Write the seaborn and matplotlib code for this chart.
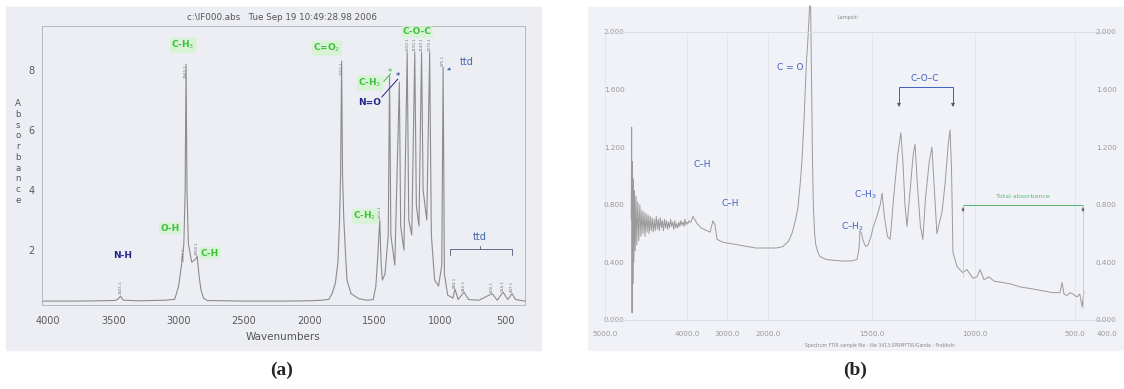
import numpy as np
import pandas as pd
import matplotlib
matplotlib.use('Agg')
import matplotlib.pyplot as plt
import seaborn as sns
from matplotlib.patches import Rectangle

# ---- data, panel (a): absorbance vs wavenumber ----
a_wn = [4046, 3800, 3600, 3500, 3480, 3460, 3445, 3430, 3420, 3300, 3100,
        3030, 3000, 2975, 2960, 2950, 2943, 2936, 2925, 2900, 2870, 2858,
        2845, 2830, 2810, 2780, 2500, 2200, 2000, 1900, 1850, 1825, 1800,
        1780, 1768, 1760, 1752, 1745, 1735, 1720, 1711, 1680, 1620, 1560,
        1510, 1490, 1475, 1460, 1450, 1440, 1420, 1395, 1385, 1375, 1345,
        1310, 1300, 1275, 1250, 1238, 1215, 1192, 1180, 1160, 1140, 1128,
        1100, 1078, 1065, 1040, 1010, 985, 975, 965, 940, 900, 884, 860,
        815, 780, 700, 600, 560, 516, 480, 447, 420, 348]
a_abs = [0.30, 0.30, 0.31, 0.32, 0.33, 0.38, 0.47, 0.36, 0.33, 0.31, 0.33,
         0.36, 0.80, 1.60, 2.20, 4.00, 8.20, 4.00, 2.20, 1.60, 1.70, 1.80,
         1.20, 0.70, 0.40, 0.32, 0.30, 0.30, 0.31, 0.33, 0.36, 0.55, 0.90,
         1.60, 3.00, 4.50, 8.30, 4.50, 3.00, 1.70, 1.00, 0.55, 0.38, 0.33,
         0.35, 0.80, 1.80, 3.00, 1.60, 1.00, 1.20, 2.50, 7.80, 2.50, 1.50,
         7.60, 2.80, 2.00, 8.60, 3.00, 2.50, 8.60, 3.50, 2.80, 8.60, 4.00,
         3.00, 8.60, 2.50, 1.00, 0.80, 1.50, 8.10, 1.20, 0.50, 0.40, 0.70,
         0.35, 0.60, 0.35, 0.33, 0.55, 0.33, 0.60, 0.35, 0.55, 0.35, 0.30]
a_xticks = [4000, 3500, 3000, 2500, 2000, 1500, 1000, 500]
a_yticks = [2, 4, 6, 8]
# tiny peak-position labels printed by the instrument software
a_peak_wn = [3445, 2962, 2943, 2858, 1752, 1458, 1250, 1192,
             1140, 1078, 975, 884, 815, 600, 516, 447]
a_peak_y = [0.55, 1.65, 7.75, 1.85, 7.85, 3.05, 8.65, 8.65,
            8.65, 8.65, 8.15, 0.75, 0.65, 0.60, 0.65, 0.60]

# ---- data, panel (b) ----
b_wn = [4680, 4675, 4670, 4665, 4660, 4655, 4648, 4640, 4632, 4622, 4612,
        4600, 4588, 4575, 4562, 4550, 4537, 4525, 4512, 4500, 4487, 4475,
        4462, 4450, 4437, 4425, 4412, 4400, 4387, 4375, 4362, 4350, 4337,
        4325, 4312, 4300, 4287, 4275, 4262, 4250, 4237, 4225, 4212, 4200,
        4187, 4175, 4162, 4150, 4137, 4125, 4112, 4100, 4087, 4075, 4062,
        4050, 4037, 4025, 4012, 4000, 3975, 3950, 3925, 3900, 3850, 3750,
        3650, 3500, 3425, 3350, 3300, 3250, 3100, 2900, 2700, 2500, 2300,
        2100, 1960, 1928, 1900, 1885, 1870, 1856, 1845, 1837, 1828, 1822,
        1815, 1808, 1800, 1795, 1790, 1786, 1782, 1776, 1770, 1760, 1750,
        1720, 1650, 1600, 1572, 1562, 1558, 1550, 1543, 1530, 1519, 1505,
        1495, 1476, 1460, 1451, 1440, 1425, 1412, 1395, 1375, 1360, 1350,
        1340, 1330, 1315, 1300, 1291, 1280, 1265, 1253, 1240, 1222, 1209,
        1197, 1185, 1172, 1160, 1145, 1130, 1121, 1114, 1107, 1087, 1060,
        1039, 1010, 990, 975, 955, 930, 905, 860, 820, 775, 730, 690, 650,
        610, 575, 565, 555, 540, 525, 510, 494, 485, 478, 472]
b_abs = [0.70, 1.34, 0.05, 1.10, 0.25, 0.98, 0.40, 0.90, 0.48, 0.86, 0.52,
         0.82, 0.55, 0.80, 0.58, 0.76, 0.60, 0.75, 0.58, 0.74, 0.61, 0.73,
         0.60, 0.72, 0.62, 0.71, 0.61, 0.70, 0.62, 0.72, 0.63, 0.70, 0.62,
         0.71, 0.64, 0.69, 0.62, 0.70, 0.64, 0.69, 0.63, 0.68, 0.64, 0.70,
         0.65, 0.68, 0.63, 0.69, 0.64, 0.67, 0.64, 0.68, 0.65, 0.69, 0.66,
         0.68, 0.65, 0.70, 0.66, 0.68, 0.67, 0.69, 0.68, 0.68, 0.72, 0.67,
         0.64, 0.62, 0.61, 0.69, 0.66, 0.56, 0.54, 0.53, 0.52, 0.51, 0.50,
         0.50, 0.50, 0.51, 0.55, 0.60, 0.68, 0.78, 0.95, 1.10, 1.35, 1.55,
         1.80, 1.95, 2.18, 2.18, 1.60, 1.10, 0.80, 0.60, 0.52, 0.47, 0.44,
         0.42, 0.41, 0.41, 0.42, 0.50, 0.62, 0.60, 0.55, 0.51, 0.52, 0.58,
         0.64, 0.72, 0.80, 0.88, 0.72, 0.58, 0.56, 0.85, 1.15, 1.30, 1.10,
         0.80, 0.65, 0.90, 1.15, 1.22, 0.95, 0.65, 0.56, 0.85, 1.10, 1.20,
         0.90, 0.60, 0.68, 0.75, 0.95, 1.22, 1.32, 1.05, 0.47, 0.37, 0.33,
         0.35, 0.29, 0.30, 0.35, 0.28, 0.30, 0.27, 0.26, 0.25, 0.23, 0.22,
         0.21, 0.20, 0.19, 0.19, 0.26, 0.18, 0.17, 0.19, 0.18, 0.16, 0.18,
         0.09, 0.20]
b_xticks = [5000, 4000, 3000, 2000, 1500, 1000, 500, 400]
b_yticks = [0.0, 0.4, 0.8, 1.2, 1.6, 2.0]
# where the tick labels of the non-linear instrument axis sit (pixels)
b_tick_px = [605, 687, 727, 768, 872, 975, 1075, 1107]

W, H = 1124, 389
sns.set_theme(style='white')
plt.rcParams['font.family'] = ['DejaVu Sans']

fig = plt.figure(figsize=(W / 100, H / 100), dpi=100)


def fbox(x0, y0, x1, y1):
    # pixel box -> figure fraction rect
    return [x0 / W, 1 - y1 / H, (x1 - x0) / W, (y1 - y0) / H]


# panel backgrounds
for (x0, y0, x1, y1), c in [((6, 7, 541, 350), '#eceef4'),
                            ((588, 7, 1124, 350), '#f1f2f7')]:
    r = fbox(x0, y0, x1, y1)
    fig.add_artist(Rectangle(r[:2], r[2], r[3], transform=fig.transFigure,
                             color=c, zorder=0))

# ================= panel (a) =================
axA = fig.add_axes(fbox(42, 26, 525, 305))
axA.set_facecolor('none')
dfA = pd.DataFrame({'wn': a_wn, 'abs': a_abs})
sns.lineplot(data=dfA, x='wn', y='abs', sort=False, estimator=None,
             color='#8c8c8c', lw=0.8, ax=axA)
axA.set_xlim(4046, 348)
axA.set_ylim(0.17, 9.47)
axA.set_xticks(a_xticks)
axA.set_yticks(a_yticks)
axA.set_xlabel('')
axA.set_ylabel('')
axA.tick_params(colors='#5a5a5a', labelsize=7, length=2, width=0.6, direction='out')
axA.tick_params(axis='x', pad=6)
for s in axA.spines.values():
    s.set_color('#b4b7c0')
    s.set_linewidth(0.7)

for wn, y in zip(a_peak_wn, a_peak_y):
    axA.text(wn, y, str(wn) + '.1', rotation=90, fontsize=2.8, color='#777777',
             ha='center', va='bottom')

green = '#3cc03c'
halo = dict(boxstyle='round,pad=0.15', fc='#d4f3cf', ec='none', alpha=0.85)
navy = '#23238c'
tblue = '#4466aa'
for txt, x, y in [(r'C-H$_3$', 2966, 8.83), (r'C=O$_2$', 1864, 8.73),
                  ('O-H', 3066, 2.73), ('C-H', 2760, 1.90),
                  (r'C-H$_2$', 1573, 3.13), (r'C-H$_3$', 1534, 7.57),
                  ('C-O-C', 1175, 9.27)]:
    axA.text(x, y, txt, color=green, fontsize=6.5, fontweight='bold',
             ha='center', va='center', bbox=halo)
axA.text(3426, 1.83, 'N-H', color=navy, fontsize=6.5, fontweight='bold',
         ha='center', va='center')
axA.text(1534, 6.93, 'N=O', color=navy, fontsize=6.5, fontweight='bold',
         ha='center', va='center')
axA.text(1381, 7.93, '*', color=green, fontsize=6, ha='center', va='center')
axA.text(1320, 7.77, '*', color=navy, fontsize=6, ha='center', va='center')
axA.plot([1430, 1378], [7.62, 7.88], color=green, lw=0.7)
axA.plot([1445, 1322], [7.10, 7.70], color=navy, lw=0.7)
axA.annotate('ttd', xy=(945, 8.0), xytext=(792, 8.27), color=tblue,
             fontsize=7, ha='center', va='center',
             arrowprops=dict(arrowstyle='-|>', color=tblue, lw=0.6,
                             mutation_scale=4, shrinkA=6, shrinkB=0))
axA.text(692, 2.45, 'ttd', color=tblue, fontsize=7, ha='center', va='center')
axA.plot([922, 922, 447, 447], [1.85, 2.02, 2.02, 1.85], color='#555577', lw=0.6)
axA.plot([692, 692], [2.02, 2.15], color='#555577', lw=0.6)

fig.text(282 / W, 1 - 18 / H, 'c:\\IF000.abs   Tue Sep 19 10:49:28.98 2006',
         fontsize=6.3, color='#555555', ha='center', va='center')
fig.text(283 / W, 1 - 337 / H, 'Wavenumbers', fontsize=7.5, color='#555555',
         ha='center', va='center')
fig.text(18 / W, 1 - 152 / H, '\n'.join('Absorbance'), fontsize=6.2,
         color='#555555', ha='center', va='center', linespacing=1.25)

# ================= panel (b) =================
axB = fig.add_axes(fbox(605, 32, 1107, 320))
axB.set_facecolor('none')
dfB = pd.DataFrame({'wn': b_wn, 'abs': b_abs})
sns.lineplot(data=dfB, x='wn', y='abs', sort=False, estimator=None,
             color='#9a9a9a', lw=0.7, ax=axB)
for l in axB.lines:
    l.set_clip_on(False)

# piecewise-linear instrument axis (increasing transform, axis inverted)
wn_inc = np.array(b_xticks[::-1], dtype=float)
negpx_inc = -np.array(b_tick_px[::-1], dtype=float)


def fwd(x):
    return np.interp(x, wn_inc, negpx_inc)


def inv(p):
    return np.interp(p, negpx_inc, wn_inc)


axB.set_xscale('function', functions=(fwd, inv))
axB.set_xlim(5000, 400)
axB.set_ylim(0, 2.0)
axB.set_xticks(b_xticks)
axB.set_xticklabels([f'{t:.1f}' for t in b_xticks])
axB.set_yticks(b_yticks)
axB.set_yticklabels([f'{t:.3f}' for t in b_yticks])
axB.set_xlabel('')
axB.set_ylabel('')
axB.tick_params(colors='#9a9a9a', labelsize=5.2, length=0)
axB.tick_params(axis='x', pad=8)
axB.tick_params(axis='y', pad=-14)
for s in ['left', 'right']:
    axB.spines[s].set_visible(False)
for s in ['top', 'bottom']:
    axB.spines[s].set_color('#dcdee6')
    axB.spines[s].set_linewidth(0.7)
axB.grid(axis='x', color='#e3e5ec', lw=0.6)

# duplicate value labels on the right side
axR = axB.twinx()
axR.set_ylim(0, 2.0)
axR.set_yticks(b_yticks)
axR.set_yticklabels([f'{t:.3f}' for t in b_yticks])
axR.tick_params(colors='#9a9a9a', labelsize=5.2, length=0, pad=-8)
for s in axR.spines.values():
    s.set_visible(False)
axR.grid(False)

bblue = '#3f5fc0'
for txt, x, y in [('C = O', 1894, 1.75), ('C–H', 3625, 1.08), ('C–H', 2927, 0.81),
                  (r'C–H$_3$', 1529, 0.87), (r'C–H$_2$', 1596, 0.65),
                  ('C–O–C', 1243, 1.68)]:
    axB.text(x, y, txt, color=bblue, fontsize=6.5, ha='center', va='center')
axB.plot([1369, 1369, 1107, 1107], [1.50, 1.62, 1.62, 1.50], color=bblue, lw=0.7)
for xx in [1369, 1107]:
    axB.annotate('', xy=(xx, 1.46), xytext=(xx, 1.52),
                 arrowprops=dict(arrowstyle='-|>', color='#555577', lw=0.6,
                                 mutation_scale=5))
tgreen = '#5cb87a'
axB.text(760, 0.84, 'Total absorbance', color=tgreen, fontsize=4.5,
         ha='center', va='bottom')
axB.plot([1058, 475], [0.80, 0.80], color=tgreen, lw=0.8)
for xx, ybot in [(1058, 0.30), (475, 0.08)]:
    axB.plot([xx, xx], [0.80, ybot], color='#c8cad2', lw=0.6)
    axB.annotate('', xy=(xx, 0.73), xytext=(xx, 0.80),
                 arrowprops=dict(arrowstyle='-|>', color='#666666', lw=0.6,
                                 mutation_scale=4))

fig.text(848 / W, 1 - 18 / H, 'Lampshi', fontsize=3.5, color='#888888',
         ha='center', va='center')
fig.text(880 / W, 1 - 345 / H,
         'Spectrum FTIR sample file - file 3413.0PRMFTIR/Ganda - Pratikshi',
         fontsize=3.3, color='#8a8a8a', ha='center', va='center')

# panel captions
fig.text(282 / W, 1 - 370 / H, '(a)', fontsize=14, fontweight='bold',
         family='Liberation Serif', ha='center', va='center')
fig.text(855 / W, 1 - 370 / H, '(b)', fontsize=14, fontweight='bold',
         family='Liberation Serif', ha='center', va='center')

fig.savefig('out.png', dpi=100)
